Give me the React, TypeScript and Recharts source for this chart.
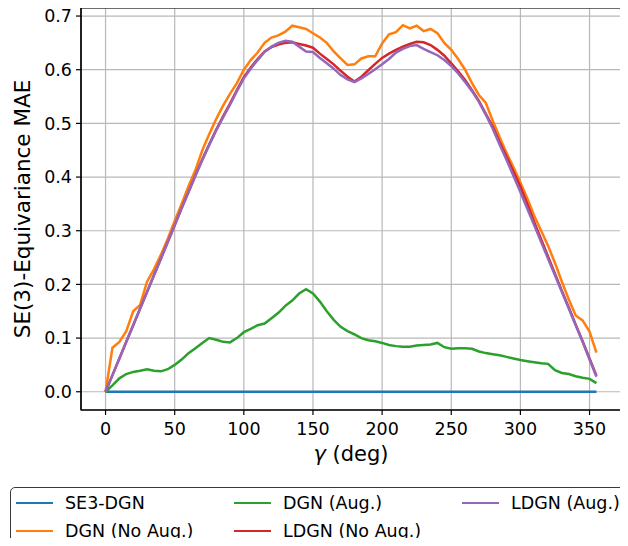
import React from 'react';
import { LineChart, Line, XAxis, YAxis, CartesianGrid, Legend, ReferenceArea } from 'recharts';

const gamma = [0, 5, 10, 15, 20, 25, 30, 35, 40, 45, 50, 55, 60, 65, 70, 75, 80, 85, 90, 95, 100, 105, 110, 115, 120, 125, 130, 135, 140, 145, 150, 155, 160, 165, 170, 175, 180, 185, 190, 195, 200, 205, 210, 215, 220, 225, 230, 235, 240, 245, 250, 255, 260, 265, 270, 275, 280, 285, 290, 295, 300, 305, 310, 315, 320, 325, 330, 335, 340, 345, 350, 355];

const se3Dgn = [0, 0, 0, 0, 0, 0, 0, 0, 0, 0, 0, 0, 0, 0, 0, 0, 0, 0, 0, 0, 0, 0, 0, 0, 0, 0, 0, 0, 0, 0, 0, 0, 0, 0, 0, 0, 0, 0, 0, 0, 0, 0, 0, 0, 0, 0, 0, 0, 0, 0, 0, 0, 0, 0, 0, 0, 0, 0, 0, 0, 0, 0, 0, 0, 0, 0, 0, 0, 0, 0, 0, 0];

const dgnNoAug = [0, 0.082, 0.093, 0.113, 0.15, 0.162, 0.205, 0.228, 0.255, 0.285, 0.318, 0.35, 0.383, 0.413, 0.45, 0.48, 0.508, 0.533, 0.555, 0.575, 0.6, 0.618, 0.632, 0.65, 0.66, 0.664, 0.671, 0.682, 0.679, 0.676, 0.668, 0.66, 0.65, 0.634, 0.621, 0.609, 0.61, 0.621, 0.625, 0.625, 0.649, 0.666, 0.67, 0.683, 0.677, 0.682, 0.672, 0.676, 0.668, 0.65, 0.637, 0.62, 0.6, 0.575, 0.553, 0.538, 0.505, 0.474, 0.445, 0.418, 0.39, 0.36, 0.328, 0.3, 0.272, 0.24, 0.205, 0.172, 0.142, 0.133, 0.112, 0.073];

const dgnAug = [0, 0.012, 0.025, 0.033, 0.037, 0.039, 0.042, 0.039, 0.038, 0.042, 0.05, 0.06, 0.072, 0.081, 0.091, 0.1, 0.097, 0.093, 0.092, 0.1, 0.111, 0.117, 0.124, 0.127, 0.137, 0.147, 0.16, 0.17, 0.183, 0.191, 0.183, 0.168, 0.15, 0.134, 0.121, 0.113, 0.107, 0.1, 0.096, 0.094, 0.091, 0.087, 0.085, 0.084, 0.084, 0.086, 0.087, 0.088, 0.091, 0.083, 0.08, 0.081, 0.081, 0.08, 0.075, 0.072, 0.07, 0.068, 0.065, 0.062, 0.059, 0.057, 0.055, 0.053, 0.052, 0.04, 0.035, 0.033, 0.029, 0.026, 0.024, 0.016];

const ldgnNoAug = [0, 0.031, 0.062, 0.093, 0.124, 0.155, 0.186, 0.217, 0.248, 0.279, 0.31, 0.342, 0.372, 0.403, 0.433, 0.461, 0.488, 0.513, 0.537, 0.562, 0.586, 0.604, 0.62, 0.634, 0.642, 0.647, 0.65, 0.651, 0.648, 0.645, 0.641, 0.63, 0.62, 0.61, 0.598, 0.587, 0.578, 0.587, 0.599, 0.611, 0.622, 0.63, 0.637, 0.643, 0.648, 0.652, 0.651, 0.646, 0.637, 0.626, 0.612, 0.597, 0.581, 0.562, 0.542, 0.518, 0.494, 0.465, 0.438, 0.41, 0.382, 0.35, 0.316, 0.284, 0.252, 0.22, 0.188, 0.157, 0.125, 0.094, 0.062, 0.03];

const ldgnAug = [0, 0.031, 0.062, 0.093, 0.124, 0.155, 0.186, 0.217, 0.248, 0.279, 0.31, 0.342, 0.372, 0.403, 0.432, 0.46, 0.487, 0.511, 0.535, 0.56, 0.584, 0.602, 0.618, 0.633, 0.643, 0.65, 0.654, 0.652, 0.643, 0.634, 0.633, 0.622, 0.612, 0.602, 0.59, 0.582, 0.577, 0.584, 0.592, 0.601, 0.61, 0.62, 0.632, 0.639, 0.644, 0.646, 0.639, 0.633, 0.627, 0.618, 0.607, 0.593, 0.577, 0.56, 0.54, 0.516, 0.49, 0.46, 0.432, 0.402, 0.372, 0.341, 0.31, 0.279, 0.248, 0.217, 0.186, 0.155, 0.124, 0.093, 0.06, 0.028];

const xTicks = [0, 50, 100, 150, 200, 250, 300, 350];
const yTicks = [0, 0.1, 0.2, 0.3, 0.4, 0.5, 0.6, 0.7];

const seriesKeys = ['se3Dgn', 'dgnNoAug', 'dgnAug', 'ldgnNoAug', 'ldgnAug'];
const seriesNames = ['SE3-DGN', 'DGN (No Aug.)', 'DGN (Aug.)', 'LDGN (No Aug.)', 'LDGN (Aug.)'];
const seriesColors = ['#1f77b4', '#ff7f0e', '#2ca02c', '#d62728', '#9467bd'];
const seriesValues = [se3Dgn, dgnNoAug, dgnAug, ldgnNoAug, ldgnAug];

const data = gamma.map((g, i) => {
  const row: Record<string, number> = { gamma: g };
  seriesKeys.forEach((k, j) => {
    row[k] = seriesValues[j][i];
  });
  return row;
});

const FONT = '"DejaVu Sans", sans-serif';
const X_DOMAIN: [number, number] = [-17.75, 372.75];
const Y_DOMAIN: [number, number] = [-0.034, 0.715];

const XLabel = (props: any) => {
  const vb = props.viewBox || {};
  const cx = vb.x + vb.width / 2;
  const y = vb.y + 51;
  return (
    <text x={cx} y={y} textAnchor="middle" fontSize={21} fontFamily={FONT} fill="#000">
      <tspan fontStyle="italic">γ</tspan>
      <tspan> (deg)</tspan>
    </text>
  );
};

const YLabel = (props: any) => {
  const vb = props.viewBox || {};
  const cy = vb.y + vb.height / 2;
  const x = 30;
  return (
    <text
      x={x}
      y={cy}
      textAnchor="middle"
      fontSize={21.5}
      fontFamily={FONT}
      fill="#000"
      transform={`rotate(-90, ${x}, ${cy})`}
    >
      SE(3)-Equivariance MAE
    </text>
  );
};

const renderLegend = (props: any) => {
  const payload = (props.payload || []) as any[];
  const ordered = seriesNames
    .map((n) => payload.find((p) => p.value === n))
    .filter(Boolean);
  return (
    <div
      style={{
        boxSizing: 'border-box',
        width: 660,
        height: 90,
        border: '1.3px solid #3a3a3a',
        borderRadius: 5,
        background: '#fff',
        padding: '1px 0 0 5px',
        display: 'grid',
        gridTemplateRows: '28px 27px',
        gridTemplateColumns: '218px 228px 200px',
        gridAutoFlow: 'column',
        fontFamily: FONT,
        fontSize: 17.5,
        color: '#000',
      }}
    >
      {ordered.map((p: any) => (
        <div key={p.value} style={{ display: 'flex', alignItems: 'center', whiteSpace: 'nowrap' }}>
          <span
            style={{
              display: 'inline-block',
              width: 37,
              height: 0,
              borderTop: `2.6px solid ${p.color}`,
              marginRight: 12,
            }}
          />
          <span>{p.value}</span>
        </div>
      ))}
    </div>
  );
};

export default function App() {
  return (
    <div style={{ margin: -8, width: 628, height: 546, overflow: 'hidden', position: 'relative', background: '#fff' }}>
      <LineChart
        width={628}
        height={546}
        data={data}
        margin={{ top: 8, right: 7, bottom: 76, left: 0 }}
      >
        <CartesianGrid stroke="#b8b8b8" strokeWidth={1.2} />
        <XAxis
          dataKey="gamma"
          type="number"
          domain={X_DOMAIN}
          ticks={xTicks}
          interval={0}
          height={60}
          tickSize={5}
          tickMargin={8}
          axisLine={{ stroke: '#000', strokeWidth: 1.2 }}
          tickLine={{ stroke: '#000', strokeWidth: 1.2 }}
          tick={{ fontSize: 17.5, fontFamily: FONT, fill: '#000' }}
          label={<XLabel />}
          allowDataOverflow
        />
        <YAxis
          type="number"
          domain={Y_DOMAIN}
          ticks={yTicks}
          interval={0}
          width={81}
          tickSize={5}
          tickMargin={4}
          tickFormatter={(v: number) => v.toFixed(1)}
          axisLine={{ stroke: '#000', strokeWidth: 1.2 }}
          tickLine={{ stroke: '#000', strokeWidth: 1.2 }}
          tick={{ fontSize: 17.5, fontFamily: FONT, fill: '#000' }}
          label={<YLabel />}
          allowDataOverflow
        />
        {seriesKeys.map((k, j) => (
          <Line
            key={k}
            type="linear"
            dataKey={k}
            name={seriesNames[j]}
            stroke={seriesColors[j]}
            strokeWidth={2.5}
            dot={false}
            activeDot={false}
            isAnimationActive={false}
          />
        ))}
        <ReferenceArea
          x1={X_DOMAIN[0]}
          x2={X_DOMAIN[1]}
          y1={Y_DOMAIN[0]}
          y2={Y_DOMAIN[1]}
          fill="none"
          stroke="#000"
          strokeWidth={1.2}
          ifOverflow="visible"
        />
        <Legend
          layout="horizontal"
          verticalAlign="middle"
          align="center"
          wrapperStyle={{ left: 10, top: 487, width: 660, height: 90 }}
          content={renderLegend}
        />
      </LineChart>
    </div>
  );
}
